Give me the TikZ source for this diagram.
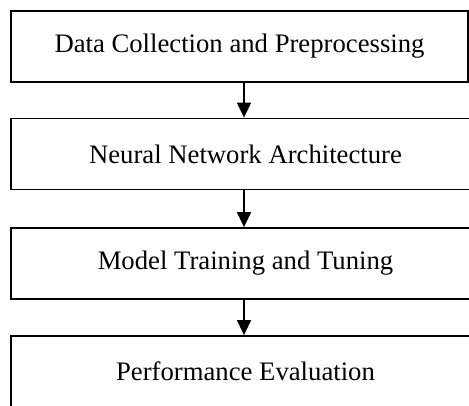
\documentclass[tikz,border=0pt]{standalone}
\usepackage{fontspec}
\setmainfont{Liberation Serif}
\usetikzlibrary{arrows.meta,positioning}

\begin{document}
\begin{tikzpicture}[x=1pt,y=-1pt,
   stage/.style={draw,line width=1.8pt,minimum height=71pt,inner sep=0pt,
     font=\fontsize{26.7}{30}\selectfont},
   arr/.style={line width=1.5pt,-{Triangle[width=14pt,length=15pt]}}]
  \clip (0,0) rectangle (469,405);
  \useasboundingbox (0,0) rectangle (469,405);
  % ---------- stages ----------
  \node[stage,minimum width=457pt] (collect) at (239.5,46.5) {Data Collection and Preprocessing};
  \node[stage,minimum width=469pt] (arch) at (245.5,154) {Neural Network Architecture};
  \node[stage,minimum width=469pt] (train) at (245.5,263.5) {Model Training and Tuning};
  \node[stage,minimum width=469pt] (eval) at (245.5,371.5) {Performance Evaluation};
  % ---------- arrows ----------
  \coordinate (ax) at (244,0);
  \draw[arr] (collect.south -| ax) -- (arch.north -| ax);
  \draw[arr] (arch.south -| ax) -- (train.north -| ax);
  \draw[arr] (train.south -| ax) -- (eval.north -| ax);
\end{tikzpicture}
\end{document}
